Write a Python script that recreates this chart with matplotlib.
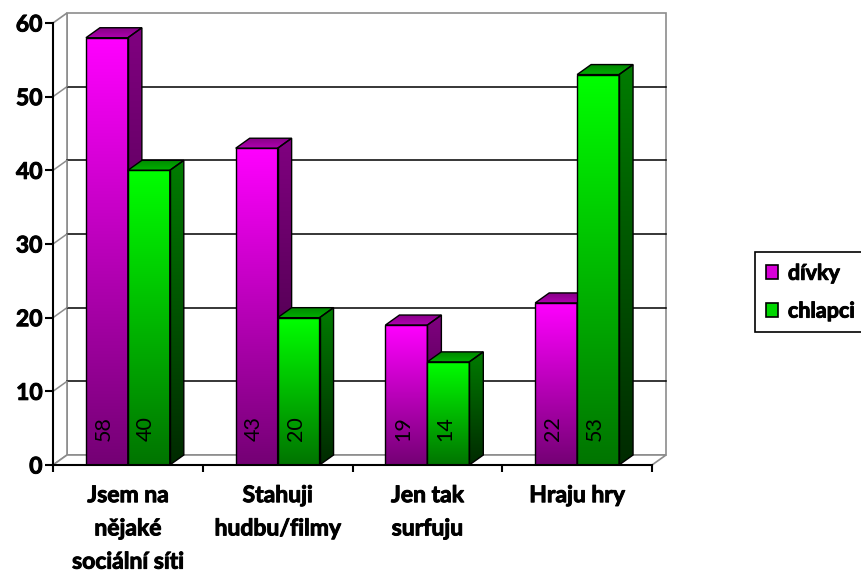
import numpy as np
import matplotlib
matplotlib.use("Agg")
import matplotlib.pyplot as plt
import matplotlib.patheffects as pe
from matplotlib.patches import Polygon, Patch
from matplotlib.colors import LinearSegmentedColormap

categories = ["Jsem na\nnějaké\nsociální síti", "Stahuji\nhudbu/filmy", "Jen tak\nsurfuju", "Hraju hry"]
divky = [58, 43, 19, 22]
chlapci = [40, 20, 14, 53]
series_names = ["dívky", "chlapci"]
y_ticks = [0, 10, 20, 30, 40, 50, 60]

plt.rcParams['font.family'] = ['Lato', 'DejaVu Sans']

W, H = 862, 574
fig = plt.figure(figsize=(W / 100, H / 100), dpi=100)
ax = fig.add_axes([53 / W, (H - 465) / H, (652 - 53) / W, (465 - 23) / H])
ax.set_xlim(-0.5, 3.5)
ax.set_ylim(0, 60)
ax.patch.set_visible(False)

# 3D depth offset: 14 px right, 10 px up -> data units
p0 = ax.transData.transform((0, 0))
dx, dy = ax.transData.inverted().transform(p0 + np.array([14, 10]))

GRAY = '#8c8c8c'
x0, x1 = -0.5, 3.5
ymax = 60
heavy = [pe.withStroke(linewidth=0.7, foreground='black')]

# walls
ax.add_patch(Polygon([(x0 + dx, dy), (x1 + dx, dy), (x1 + dx, ymax + dy), (x0 + dx, ymax + dy)],
                     facecolor='white', edgecolor=GRAY, lw=1.2, clip_on=False, zorder=0))
ax.add_patch(Polygon([(x0, 0), (x0, ymax), (x0 + dx, ymax + dy), (x0 + dx, dy)],
                     facecolor='white', edgecolor=GRAY, lw=1.2, clip_on=False, zorder=0))
ax.add_patch(Polygon([(x0, 0), (x1, 0), (x1 + dx, dy), (x0 + dx, dy)],
                     facecolor='white', edgecolor=GRAY, lw=1.2, clip_on=False, zorder=0))
for t in y_ticks[1:-1]:
    ax.plot([x0 + dx, x1 + dx], [t + dy, t + dy], color='black', lw=1.1, zorder=0.5, clip_on=False)
    ax.plot([x0, x0 + dx], [t, t + dy], color=GRAY, lw=1.1, zorder=0.5, clip_on=False)


def grad_face(verts, c_low, c_high, z):
    verts = np.array(verts)
    poly = Polygon(verts, closed=True, facecolor='none', edgecolor='none')
    ax.add_patch(poly)
    cmap = LinearSegmentedColormap.from_list('g', [c_low, c_high])
    img = ax.imshow(np.linspace(0, 1, 256).reshape(-1, 1), cmap=cmap, origin='lower', aspect='auto',
                    extent=[verts[:, 0].min(), verts[:, 0].max(), verts[:, 1].min(), verts[:, 1].max()],
                    zorder=z, interpolation='bilinear')
    img.set_clip_path(poly)
    ax.add_patch(Polygon(verts, closed=True, fill=False, edgecolor='black', lw=1.0, zorder=z + 0.01))


styles = [
    # front (bottom, top), side (bottom, top), top face (front, back)
    dict(front=('#740074', '#ff00ff'), side=('#380038', '#800080'), top=('#b000b0', '#860086')),
    dict(front=('#007400', '#00ff00'), side=('#002a00', '#007c00'), top=('#00b000', '#008600')),
]

bw = 0.28
z = 2
for i in range(len(categories)):
    for j, vals in enumerate([divky, chlapci]):
        v = vals[i]
        left = i - bw + j * bw
        right = left + bw
        st = styles[j]
        grad_face([(right, 0), (right + dx, dy), (right + dx, v + dy), (right, v)], *st['side'], z)
        grad_face([(left, v), (right, v), (right + dx, v + dy), (left + dx, v + dy)], *st['top'], z)
        grad_face([(left, 0), (right, 0), (right, v), (left, v)], *st['front'], z)
        ax.text((left + right) / 2 - 0.02, 3.3, str(v), rotation=90, ha='center', va='bottom',
                fontsize=15.5, color='black', zorder=z + 0.5)
        z += 1

ax.set_xlim(-0.5, 3.5)
ax.set_ylim(0, 60)

for s in ['top', 'right']:
    ax.spines[s].set_visible(False)
for s in ['left', 'bottom']:
    ax.spines[s].set_linewidth(1.5)
    ax.spines[s].set_zorder(50)

ax.set_yticks(y_ticks)
ax.set_yticklabels([str(t) for t in y_ticks], fontsize=16.5, fontweight='bold')
ax.tick_params(axis='y', length=6, width=1.5, pad=1.5)
for lbl in ax.get_yticklabels():
    lbl.set_path_effects(heavy)

ax.set_xticks([-0.5, 0.5, 1.5, 2.5, 3.5])
ax.set_xticklabels([])
ax.tick_params(axis='x', which='major', length=5, width=1.5, direction='out')
ax.set_xticks(range(len(categories)), categories, minor=True)
ax.tick_params(axis='x', which='minor', length=0, pad=14.5)
for lbl in ax.get_xticklabels(minor=True):
    lbl.set_fontsize(16.5)
    lbl.set_fontweight('bold')
    lbl.set_linespacing(1.72)
    lbl.set_path_effects(heavy)

handles = [Patch(facecolor='#d800d8', edgecolor='black', lw=1.2),
           Patch(facecolor='#00d800', edgecolor='black', lw=1.2)]
leg = fig.legend(handles, series_names, loc='upper left', bbox_to_anchor=(755 / W, 1 - 252 / H),
                 frameon=True, fancybox=False, edgecolor='black', framealpha=1,
                 prop={'weight': 'bold', 'size': 15.5}, handlelength=0.58, handleheight=0.58,
                 handletextpad=0.45, borderpad=0.5, labelspacing=0.78, borderaxespad=0)
leg.get_frame().set_linewidth(1.2)
for t in leg.get_texts():
    t.set_path_effects(heavy)

fig.savefig('out.png', dpi=100)
